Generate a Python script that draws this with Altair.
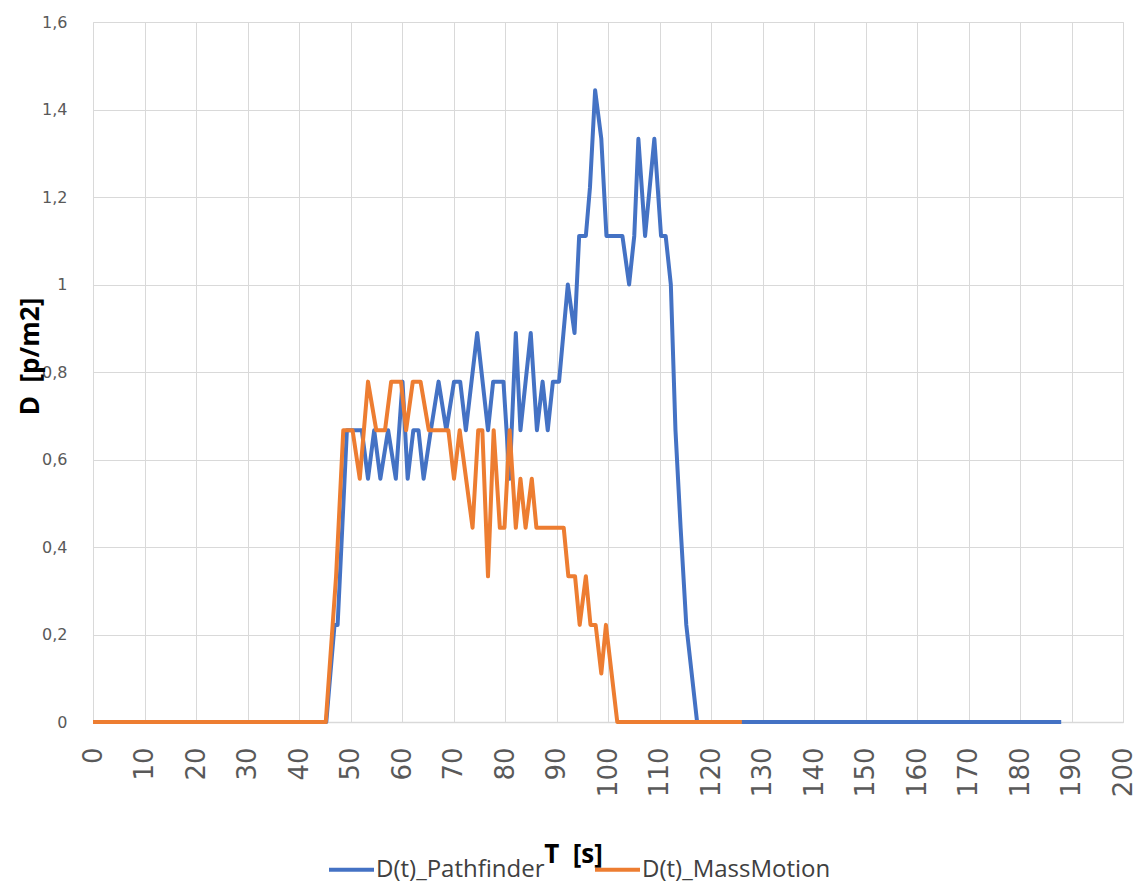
import altair as alt
import pandas as pd

# Series names
PF = "D(t)_Pathfinder"
MM = "D(t)_MassMotion"

# D(t)_Pathfinder: time [s] and density [p/m2]
pf_t = [0, 45.3, 46.9, 47.5, 48.4, 49.3, 52.2, 53.4, 54.6, 55.8, 57.3, 58.8, 60.1, 61.1, 62.2,
        63.2, 64.2, 65.6, 67.1, 68.6, 70.1, 71.3, 72.4, 74.6, 76.7, 77.7, 79.7, 80.9, 82.1,
        83.0, 85.0, 86.2, 87.3, 88.3, 89.3, 90.5, 92.2, 93.5, 94.4, 95.7, 96.5, 97.5, 98.7,
        99.7, 102.8, 104.1, 105.1, 105.9, 107.2, 109.0, 110.3, 111.2, 112.2, 113.1, 114.1,
        115.2, 117.3, 188]
pf_d = [0, 0, 0.222, 0.222, 0.444, 0.667, 0.667, 0.556, 0.667, 0.556, 0.667, 0.556, 0.778,
        0.556, 0.667, 0.667, 0.556, 0.667, 0.778, 0.667, 0.778, 0.778, 0.667, 0.889, 0.667,
        0.778, 0.778, 0.556, 0.889, 0.667, 0.889, 0.667, 0.778, 0.667, 0.778, 0.778, 1.0,
        0.889, 1.111, 1.111, 1.222, 1.444, 1.333, 1.111, 1.111, 1.0, 1.111, 1.333, 1.111,
        1.333, 1.111, 1.111, 1.0, 0.667, 0.444, 0.222, 0, 0]

# D(t)_MassMotion
mm_t = [0, 45.2, 47.2, 48.6, 50.4, 51.8, 53.4, 55.0, 56.7, 57.9, 59.8, 60.8, 62.1, 63.6, 65.2,
        69.0, 70.1, 71.2, 73.7, 74.8, 75.6, 76.7, 77.8, 79.0, 79.9, 80.9, 82.1, 83.0, 84.0,
        85.2, 86.1, 91.4, 92.3, 93.6, 94.5, 95.7, 96.6, 97.6, 98.7, 99.6, 101.8, 126]
mm_d = [0, 0, 0.333, 0.667, 0.667, 0.556, 0.778, 0.667, 0.667, 0.778, 0.778, 0.667, 0.778,
        0.778, 0.667, 0.667, 0.556, 0.667, 0.444, 0.667, 0.667, 0.333, 0.667, 0.444, 0.444,
        0.667, 0.444, 0.556, 0.444, 0.556, 0.444, 0.444, 0.333, 0.333, 0.222, 0.333, 0.222,
        0.222, 0.111, 0.222, 0, 0]

x_ticks = list(range(0, 201, 10))
y_ticks = [0, 0.2, 0.4, 0.6, 0.8, 1.0, 1.2, 1.4, 1.6]

assert len(pf_t) == len(pf_d) and len(mm_t) == len(mm_d)

df = pd.concat([
    pd.DataFrame({"t": pf_t, "d": pf_d, "series": PF}),
    pd.DataFrame({"t": mm_t, "d": mm_d, "series": MM}),
], ignore_index=True)

GRID = "#d9d9d9"

color = alt.Color(
    "series:N",
    scale=alt.Scale(domain=[PF, MM], range=["#4472C4", "#ED7D31"]),
    legend=alt.Legend(
        title=None, orient="none", legendX=234, legendY=823, direction="horizontal",
        symbolType="stroke", symbolSize=2025, symbolStrokeWidth=4,
        labelFont="Open Sans", labelFontSize=24, labelColor="#404040", labelLimit=400,
        labelOffset=0, columnPadding=42, padding=0,
    ),
)

x = alt.X(
    "t:Q",
    scale=alt.Scale(domain=[0, 200], nice=False),
    axis=alt.Axis(
        values=x_ticks, title="T\u00a0 [s]", grid=True, gridColor=GRID, gridWidth=1,
        domainColor=GRID, domainWidth=1.5, ticks=False, tickSize=0,
        labelAngle=270, labelAlign="right", labelBaseline="middle",
        labelFont="DejaVu Sans", labelFontSize=26, labelColor="#595959", labelPadding=25,
        labelOverlap=False,
        titleFont="Open Sans", titleFontWeight="bold", titleFontSize=26, titleColor="#000000",
        titleX=480, titleY=140, titleAlign="center", titleBaseline="alphabetic",
    ),
)

y = alt.Y(
    "d:Q",
    scale=alt.Scale(domain=[0, 1.6], nice=False),
    axis=alt.Axis(
        values=y_ticks, title="D\u00a0 [p/m2]", grid=True, gridColor=GRID, gridWidth=1,
        domain=False, ticks=False, tickSize=0,
        labelExpr="replace(format(datum.value, '.1~f'), '.', ',')",
        labelFont="DejaVu Sans", labelFontSize=16, labelColor="#595959", labelPadding=26,
        titleFont="Open Sans", titleFontWeight="bold", titleFontSize=26, titleColor="#000000",
        titleAngle=270, titleX=-55, titleY=334, titleAlign="center", titleBaseline="alphabetic",
    ),
)

base = alt.Chart(df).mark_line(strokeWidth=4, strokeJoin="round", strokeCap="butt")

blue = base.transform_filter(alt.datum.series == PF).encode(x=x, y=y, color=color)
orange = base.transform_filter(alt.datum.series == MM).encode(x=x, y=y, color=color)

chart = alt.layer(blue, orange).properties(
    width=1030, height=700,
    autosize=alt.AutoSizeParams(type="none"),
    padding={"left": 85, "top": 14, "right": 13, "bottom": 161},
).configure_view(strokeWidth=0).configure(background="white")

chart.save("out.html", embed_options={"renderer": "svg", "actions": False})
